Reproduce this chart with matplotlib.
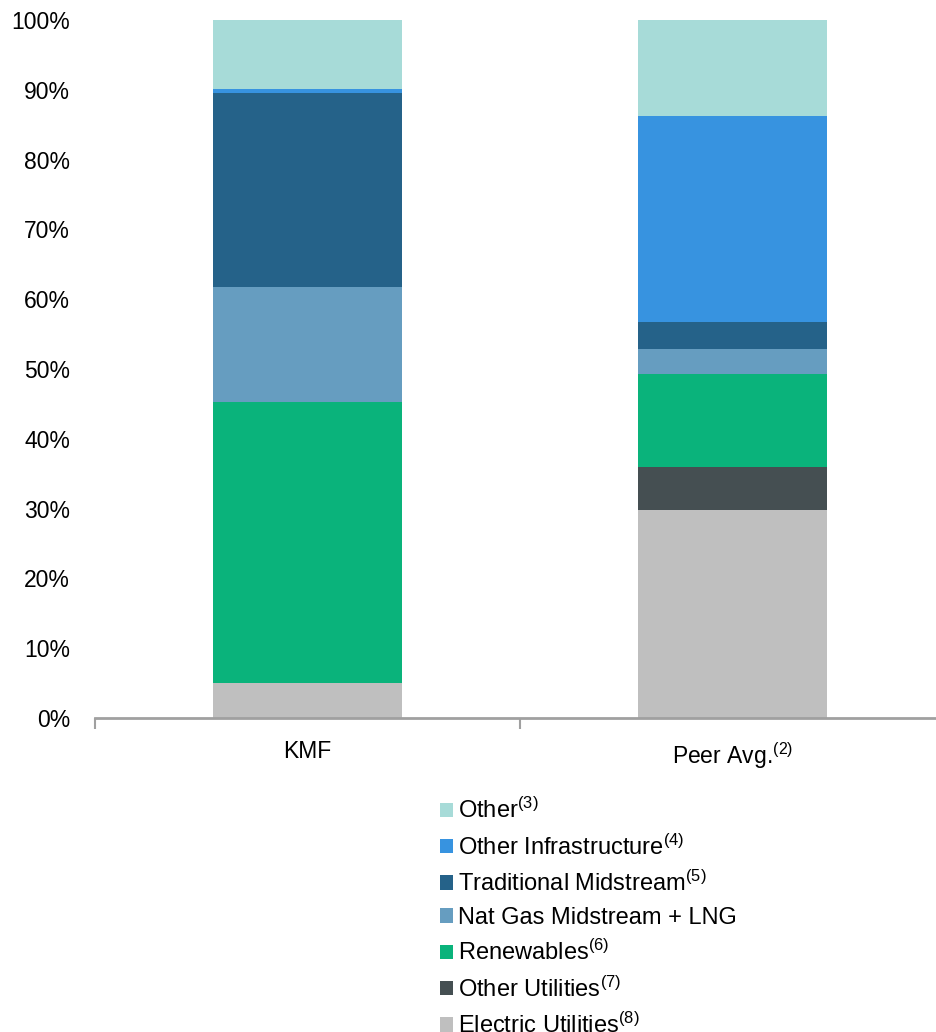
import matplotlib
matplotlib.use("Agg")
import matplotlib.pyplot as plt
import numpy as np

plt.rcParams['font.family'] = ['Liberation Sans', 'DejaVu Sans']
plt.rcParams['mathtext.fontset'] = 'custom'
plt.rcParams['mathtext.rm'] = 'Liberation Sans'
plt.rcParams['mathtext.default'] = 'regular'

categories = ["KMF", "Peer Avg.$^{(2)}$"]
series_names = ["Electric Utilities$^{(8)}$", "Other Utilities$^{(7)}$", "Renewables$^{(6)}$",
                "Nat Gas Midstream + LNG", "Traditional Midstream$^{(5)}$",
                "Other Infrastructure$^{(4)}$", "Other$^{(3)}$"]
electric = [5.0, 29.8]
other_util = [0.0, 6.1]
renewables = [40.3, 13.4]
natgas = [16.5, 3.6]
traditional = [27.8, 3.9]
other_infra = [0.5, 29.5]
other = [9.9, 13.7]
colors = ["#BFBFBF", "#454F52", "#0AB37B", "#669DC0", "#256289", "#3793E0", "#A7DBD8"]
yticks = [0, 10, 20, 30, 40, 50, 60, 70, 80, 90, 100]

W, H = 937, 1032
fig = plt.figure(figsize=(W / 100, H / 100), dpi=100)
ax = fig.add_axes([95 / W, (H - 718) / H, 850 / W, 698 / H])

x = np.arange(len(categories))
bottom = np.zeros(len(categories))
handles = []
for vals, name, c in zip([electric, other_util, renewables, natgas, traditional, other_infra, other],
                         series_names, colors):
    b = ax.bar(x, vals, width=0.447, bottom=bottom, color=c, label=name, linewidth=0)
    handles.append(b)
    bottom += np.array(vals)

ax.set_xlim(-0.5, 1.5)
ax.set_ylim(0, 100)
ax.set_yticks(yticks)
ax.set_yticklabels([f"{v}%" for v in yticks])
ax.set_xticks(x)
ax.set_xticklabels(categories)
ax.set_xticks([-0.5, 0.5, 1.5], minor=True)
ax.tick_params(axis='x', which='major', length=0, pad=16, labelsize=16.5)
ax.tick_params(axis='x', which='minor', length=8, width=1.5, color="#a0a0a0", direction='out')
ax.tick_params(axis='y', length=0, pad=18, labelsize=16.5)
for s in ['top', 'right', 'left']:
    ax.spines[s].set_visible(False)
ax.spines['bottom'].set_color("#a0a0a0")
ax.spines['bottom'].set_linewidth(2)

leg = fig.legend(handles[::-1], series_names[::-1], loc='upper left',
                 bbox_to_anchor=(440 / W, (H - 798) / H), frameon=False,
                 fontsize=17, handlelength=0.55, handleheight=0.55, handletextpad=0.2,
                 labelspacing=0.47, borderaxespad=0, borderpad=0)

fig.savefig("out.png", dpi=100)
